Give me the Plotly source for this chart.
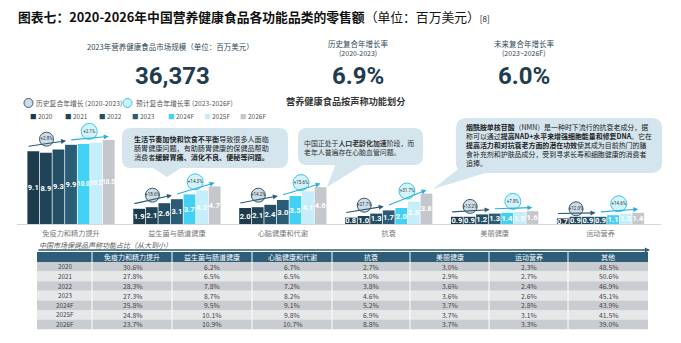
import plotly.graph_objects as go

W, H = 681, 343
FONT = "Noto Sans CJK SC"

# ---------------- data ----------------
categories = ["免疫力和精力提升", "益生菌与肠道健康", "心脑健康和代谢", "抗衰", "美丽健康", "运动营养"]
years = ["2020", "2021", "2022", "2023", "2024F", "2025F", "2026F"]
sales_2020 = [9.1, 1.9, 2.0, 0.8, 0.9, 0.7]
sales_2021 = [8.9, 2.1, 2.1, 1.0, 0.9, 0.9]
sales_2022 = [9.3, 2.6, 2.4, 1.3, 1.2, 0.9]
sales_2023 = [9.9, 3.1, 3.0, 1.7, 1.3, 0.9]
sales_2024F = [10.0, 3.7, 3.5, 2.0, 1.4, 1.1]
sales_2025F = [10.2, 4.2, 4.1, 2.8, 1.5, 1.3]
sales_2026F = [10.5, 4.7, 4.6, 3.8, 1.6, 1.4]
sales_by_year = [sales_2020, sales_2021, sales_2022, sales_2023, sales_2024F, sales_2025F, sales_2026F]

cagr_hist_labels = ["+2.8%", "+18.6%", "+14.2%", "+27.7%", "+13.2%", "+12.0%"]
cagr_fcst_labels = ["+2.1%", "+14.3%", "+15.6%", "+31.7%", "+7.8%", "+14.6%"]

table_cols = ["免疫力和精力提升", "益生菌与肠道健康", "心脑健康和代谢", "抗衰", "美丽健康", "运动营养", "其他"]
share_immunity = [30.6, 27.8, 28.3, 27.3, 25.8, 24.8, 23.7]
share_probiotic = [6.2, 6.5, 7.8, 8.7, 9.5, 10.1, 10.9]
share_cardio = [6.7, 6.5, 7.2, 8.2, 9.1, 9.8, 10.7]
share_antiaging = [2.7, 3.0, 3.8, 4.6, 5.2, 6.9, 8.8]
share_beauty = [3.0, 2.9, 3.6, 3.6, 3.7, 3.7, 3.7]
share_sports = [2.3, 2.7, 2.4, 2.6, 2.8, 3.1, 3.3]
share_other = [48.5, 50.6, 46.9, 45.1, 43.9, 41.5, 39.0]
shares = [share_immunity, share_probiotic, share_cardio, share_antiaging, share_beauty, share_sports, share_other]

kpi_market_size = "36,373"
kpi_hist_cagr = "6.9%"
kpi_fcst_cagr = "6.0%"

# ---------------- styles ----------------
bar_colors = ["#1d3b4c", "#1f4457", "#244f65", "#2b5c75", "#42d1f4", "#c6eefa", "#c4c7cb"]
BOX = "#d4e5ee"


def px(x):
    return x / W


def py(y):
    return 1 - y / H


fig = go.Figure()

bw = 0.1187  # bar slot width in x-units


def xb(i, j):
    return i + (j - 3) * bw


for j, (yr, vals) in enumerate(zip(years, sales_by_year)):
    fig.add_trace(go.Bar(
        x=[xb(i, j) for i in range(len(categories))], y=vals, width=bw * 0.94,
        marker=dict(color=bar_colors[j], line=dict(width=0)),
        text=[f"{v:.1f}" for v in vals], textposition="inside", insidetextanchor="middle",
        textangle=0, constraintext="none",
        textfont=dict(color="white", size=[6.3 if v >= 10 else 7.6 for v in vals],
                      family="Roboto", weight="bold"),
        cliponaxis=False, showlegend=False, name=yr, hoverinfo="skip"))

# CAGR arrows and circles
dark_cx, dark_cy, cyan_cx, cyan_cy = [], [], [], []
annotations = []
for i in range(len(categories)):
    v0, v3, v6 = sales_2020[i], sales_2023[i], sales_2026F[i]
    sx, sy = xb(i, 0) - bw / 2, v0 + 0.6
    ex, ey = xb(i, 3) - bw / 2 + 0.1 * bw, v3 + 0.5
    annotations.append(dict(x=ex, y=ey, ax=sx, ay=sy, xref="x", yref="y", axref="x", ayref="y",
                            text="", showarrow=True, arrowhead=2, arrowsize=0.9, arrowwidth=1.1,
                            arrowcolor="#2b5a72"))
    dark_cx.append((sx + ex) / 2)
    dark_cy.append((sy + ey) / 2 + 0.55)
    csx, csy = xb(i, 3) - bw / 2 + 0.4 * bw, v3 + 0.6
    cex, cey = xb(i, 6), v6 + 0.45
    annotations.append(dict(x=cex, y=cey, ax=csx, ay=csy, xref="x", yref="y", axref="x", ayref="y",
                            text="", showarrow=True, arrowhead=2, arrowsize=0.9, arrowwidth=1.1,
                            arrowcolor="#2aaede"))
    cyan_cx.append((csx + cex) / 2)
    cyan_cy.append((csy + cey) / 2 + 0.85)

fig.add_trace(go.Scatter(x=dark_cx, y=dark_cy, mode="markers+text", text=cagr_hist_labels,
                         textposition="middle center", textfont=dict(size=4.5, color="#333", family="Roboto"),
                         marker=dict(size=14, color="#cddce6", line=dict(color="#3b5a6c", width=1)),
                         cliponaxis=False, showlegend=False, hoverinfo="skip"))
fig.add_trace(go.Scatter(x=cyan_cx, y=cyan_cy, mode="markers+text", text=cagr_fcst_labels,
                         textposition="middle center", textfont=dict(size=4.5, color="#333", family="Roboto"),
                         marker=dict(size=16, color="#d3f3fb", line=dict(color="#38c6ee", width=1)),
                         cliponaxis=False, showlegend=False, hoverinfo="skip"))


# ---------------- decorative shapes ----------------
def rrect(x0, y0, x1, y1, r):
    P = lambda x, y: f"{px(x):.5f},{py(y):.5f}"
    return (f"M {P(x0 + r, y0)} L {P(x1 - r, y0)} Q {P(x1, y0)} {P(x1, y0 + r)} "
            f"L {P(x1, y1 - r)} Q {P(x1, y1)} {P(x1 - r, y1)} L {P(x0 + r, y1)} "
            f"Q {P(x0, y1)} {P(x0, y1 - r)} L {P(x0, y0 + r)} Q {P(x0, y0)} {P(x0 + r, y0)} Z")


def tri(pts):
    return "M " + " L ".join(f"{px(x):.5f},{py(y):.5f}" for x, y in pts) + " Z"


shapes = []
for path in [rrect(122, 128, 288, 168, 9), tri([(150, 166), (184, 166), (167, 177)]),
             rrect(298, 128, 423, 165, 9), tri([(336, 163), (366, 163), (327, 187)]),
             rrect(456, 118, 662, 173, 11), tri([(462, 166), (492, 171), (433, 189)])]:
    shapes.append(dict(type="path", path=path, xref="paper", yref="paper",
                       fillcolor=BOX, line=dict(width=0), layer="below"))

# legend circles
shapes.append(dict(type="circle", xref="paper", yref="paper", x0=px(24), x1=px(33), y0=py(107.5), y1=py(98.5),
                   fillcolor="#cddce6", line=dict(color="#3b5a6c", width=1)))
shapes.append(dict(type="circle", xref="paper", yref="paper", x0=px(123), x1=px(132), y0=py(107.5), y1=py(98.5),
                   fillcolor="#d3f3fb", line=dict(color="#38c6ee", width=1)))


# ---------------- text ----------------
def txt(x, y, s, size, color="#333", xanchor="left", family=FONT, weight=None):
    f = dict(size=size, color=color, family=family)
    if weight:
        f["weight"] = weight
    annotations.append(dict(x=px(x), y=py(y), xref="paper", yref="paper", text=s, showarrow=False,
                            xanchor=xanchor, yanchor="middle", font=f, align="left"))


# ---------------- table (built from the share data) ----------------
col_edges = [37, 92, 172, 252, 332, 410, 489, 568, 648]
tab_top, head_h, row_h = 252, 10, 9.6
shapes.append(dict(type="rect", xref="paper", yref="paper", x0=px(col_edges[0]), x1=px(col_edges[-1]),
                   y0=py(tab_top + head_h), y1=py(tab_top), fillcolor="#2d5d78", line=dict(width=0)))
for k in range(len(years)):
    y0 = tab_top + head_h + k * row_h
    shapes.append(dict(type="rect", xref="paper", yref="paper", x0=px(col_edges[0]), x1=px(col_edges[-1]),
                       y0=py(y0 + row_h), y1=py(y0), fillcolor="#c9ccd0" if k % 2 == 0 else "#e5e7e9",
                       line=dict(width=0)))
table_bottom = tab_top + head_h + len(years) * row_h
for e in col_edges[1:-1]:
    shapes.append(dict(type="line", xref="paper", yref="paper", x0=px(e), x1=px(e),
                       y0=py(table_bottom), y1=py(tab_top), line=dict(color="white", width=1)))

for c, name in enumerate(table_cols):
    cx = (col_edges[c + 1] + col_edges[c + 2]) / 2
    txt(cx, tab_top + head_h / 2, name, 7, "white", "center")
for k, yr in enumerate(years):
    cy = tab_top + head_h + (k + 0.5) * row_h
    txt((col_edges[0] + col_edges[1]) / 2, cy, yr, 6.3, "#444", "center")
    for c, col in enumerate(shares):
        cx = (col_edges[c + 1] + col_edges[c + 2]) / 2
        txt(cx, cy, f"{col[k]:.1f}%", 6.8, "#444", "center")

txt(16, 16, "<b>图表七：2020-2026年中国营养健康食品各功能品类的零售额</b>（单位：百万美元）<span style='font-size:8px'>[8]</span>",
    12.8, "#111")

txt(170, 47, "2023年营养健康食品市场规模（单位：百万美元）", 7.5, "#2f4756", "center")
txt(173, 76, kpi_market_size, 24, "#1f3d4f", "center", "Roboto", "bold")
txt(358, 43, "历史复合年增长率", 7.5, "#2f4756", "center")
txt(358, 53, "(2020-2023)", 7, "#2f4756", "center")
txt(358, 76, kpi_hist_cagr, 24, "#1f3d4f", "center", "Roboto", "bold")
txt(524, 43, "未来复合年增长率", 7.5, "#2f4756", "center")
txt(524, 53, "(2023~2026F)", 7, "#2f4756", "center")
txt(524, 76, kpi_fcst_cagr, 24, "#1f3d4f", "center", "Roboto", "bold")

txt(34, 103, "历史复合年增长 (2020-2023)", 6.8, "#555")
txt(134, 103, "预计复合年增长率 (2023-2026F)", 6.8, "#555")
txt(345, 101, "<b>营养健康食品按声称功能划分</b>", 9.2, "#333", "center")

legend_x = [28, 63, 97, 130, 166, 202, 238]
for lx, yr, c in zip(legend_x, years, bar_colors):
    txt(lx, 116, f"<span style='color:{c}'>■</span> {yr}", 6.5, "#555")

box1 = ("<b>生活节奏加快和饮食不平衡</b>导致很多人面临<br>"
        "肠胃健康问题，有助肠胃健康的保健品帮助<br>"
        "消费者<b>缓解胃痛、消化不良、便秘等问题。</b>")
txt(132, 148.5, box1, 7.1, "#222")
box2 = ("中国正处于<b>人口老龄化加速</b>阶段，而<br>"
        "老年人普遍存在心脑血管问题。")
txt(302, 147.5, box2, 6.9, "#333")
box3 = ("<b>烟酰胺单核苷酸</b>（NMN）是一种时下流行的抗衰老成分，据<br>"
        "称可以通过<b>提高NAD+水平来增强细胞能量和修复DNA</b>。它在<br>"
        "<b>提高活力和对抗衰老方面的潜在功效</b>使其成为目前热门的膳<br>"
        "食补充剂和护肤品成分，受到寻求长寿和细胞健康的消费者<br>"
        "追捧。")
txt(464, 145, box3, 6.95, "#222")

txt(37, 244.5, "<i>中国市场保健品声称功能占比（从大到小）</i>", 7, "#555")
annotations.append(dict(x=px(650), y=py(250), xref="paper", yref="paper", ax=-613, ay=0,
                        text="", showarrow=True, arrowhead=2, arrowsize=0.8, arrowwidth=1.3,
                        arrowcolor="#2d5d78"))

fig.update_layout(
    width=W, height=H, autosize=False,
    margin=dict(l=0, r=0, t=0, b=0),
    paper_bgcolor="white", plot_bgcolor="rgba(0,0,0,0)",
    barmode="overlay",
    font=dict(family=FONT),
    xaxis=dict(domain=[px(17), px(661)], range=[-0.510, 5.571], tickvals=list(range(len(categories))),
               ticktext=categories, tickfont=dict(size=7.2, color="#777", family=FONT),
               ticks="outside", ticklen=2, tickcolor="rgba(0,0,0,0)",
               showline=True, linecolor="#d6d6d6", linewidth=1, showgrid=False, zeroline=False,
               fixedrange=True),
    yaxis=dict(domain=[py(224), py(120)], range=[0, 13], visible=False, fixedrange=True),
    shapes=shapes, annotations=annotations, showlegend=False,
)

fig.write_html("out.html")
